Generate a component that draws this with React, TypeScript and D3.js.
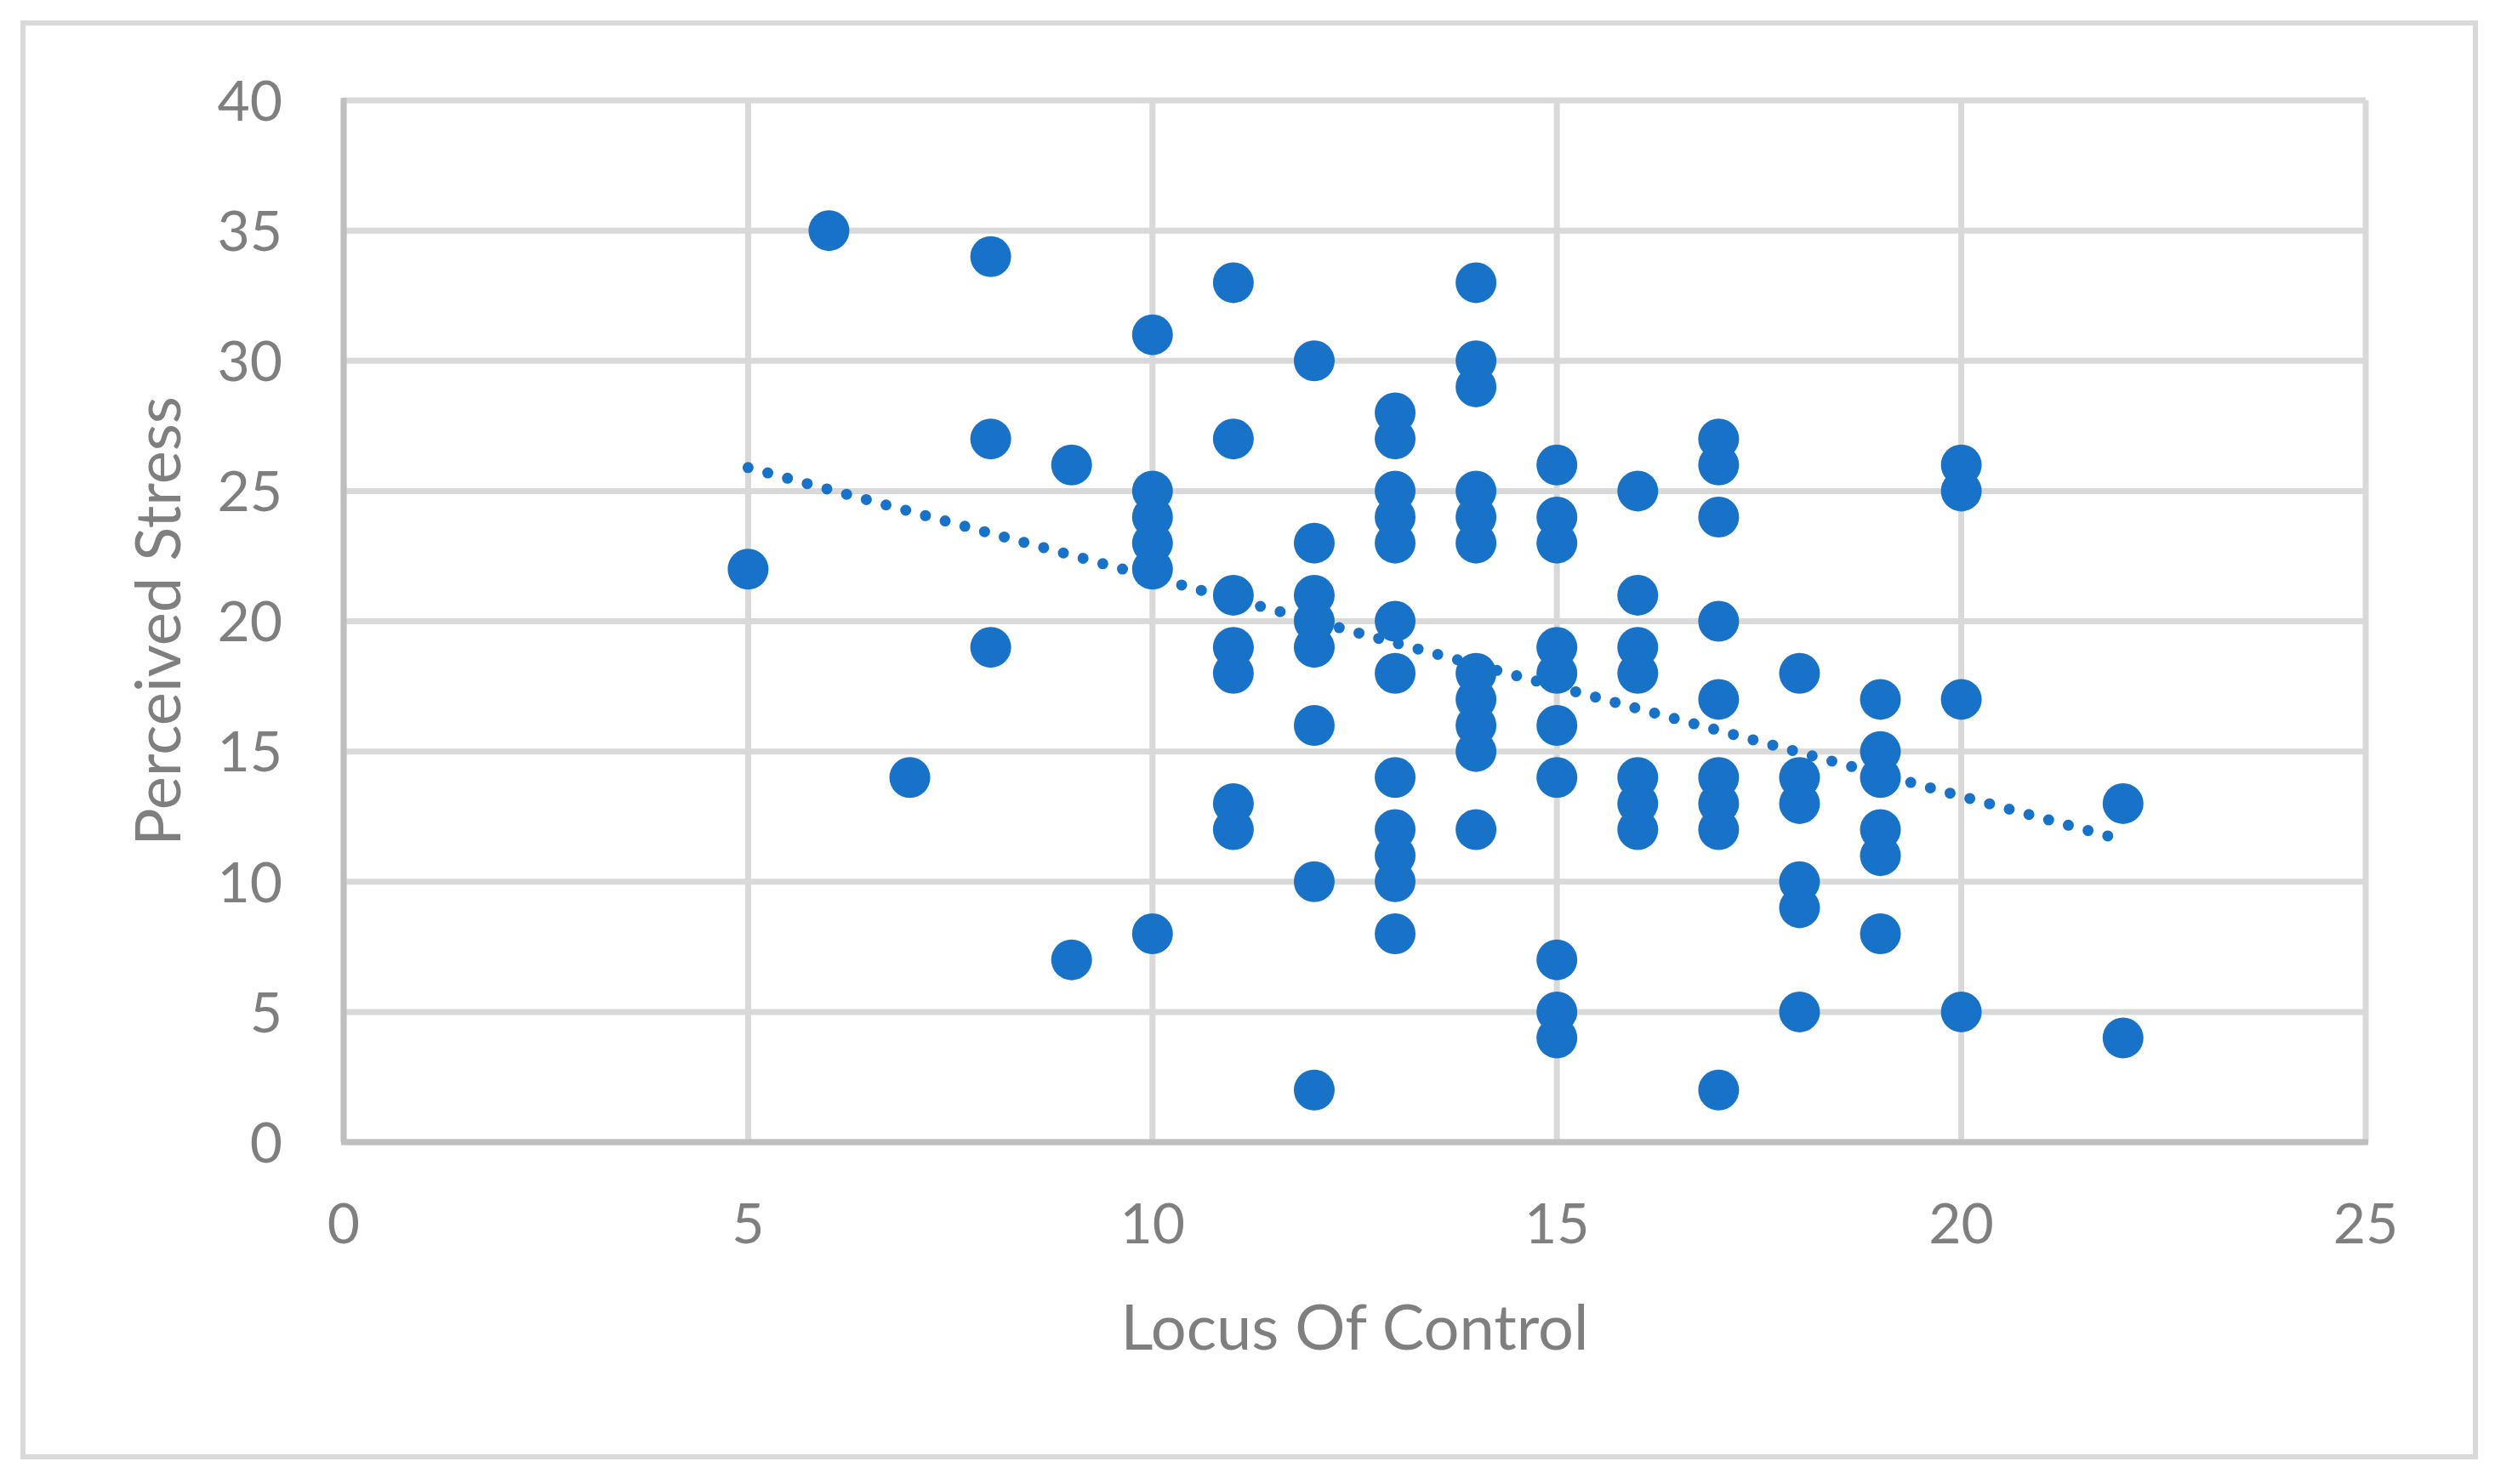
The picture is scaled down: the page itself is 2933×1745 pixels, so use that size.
import * as d3 from 'd3';

// Locus Of Control (x) and Perceived Stress (y), one line per x value
const locusOfControl = [
  5,
  6,
  7,
  8, 8, 8,
  9, 9,
  10, 10, 10, 10, 10, 10,
  11, 11, 11, 11, 11, 11, 11,
  12, 12, 12, 12, 12, 12, 12, 12,
  13, 13, 13, 13, 13, 13, 13, 13, 13, 13, 13, 13,
  14, 14, 14, 14, 14, 14, 14, 14, 14, 14, 14,
  15, 15, 15, 15, 15, 15, 15, 15, 15, 15,
  16, 16, 16, 16, 16, 16, 16,
  17, 17, 17, 17, 17, 17, 17, 17, 17,
  18, 18, 18, 18, 18, 18,
  19, 19, 19, 19, 19, 19,
  20, 20, 20, 20,
  22, 22,
];

const perceivedStress = [
  22,
  35,
  14,
  34, 27, 19,
  26, 7,
  31, 25, 24, 23, 22, 8,
  33, 27, 21, 19, 18, 13, 12,
  30, 23, 21, 20, 19, 16, 10, 2,
  28, 27, 25, 24, 23, 20, 18, 14, 12, 11, 10, 8,
  33, 30, 29, 25, 24, 23, 18, 17, 16, 15, 12,
  26, 24, 23, 19, 18, 16, 14, 7, 5, 4,
  25, 21, 19, 18, 14, 13, 12,
  27, 26, 24, 20, 17, 14, 13, 12, 2,
  18, 14, 13, 10, 9, 5,
  17, 15, 14, 12, 11, 8,
  26, 25, 17, 5,
  13, 4,
];

// linear trendline as drawn in the picture (start / end)
const trendX = [5, 22];
const trendY = [25.9, 11.6];

const xTicks = [0, 5, 10, 15, 20, 25];
const yTicks = [0, 5, 10, 15, 20, 25, 30, 35, 40];

const xTitle = 'Locus Of Control';
const yTitle = 'Perceived Stress';

export default function App() {
  const width = 2933;
  const height = 1745;
  const margin = { top: 118, right: 152, bottom: 402, left: 404 };
  const font = 'Lato, Carlito, Calibri, sans-serif';
  const textColor = '#7f7f7f';
  const blue = '#1873c8';

  const x = d3
    .scaleLinear()
    .domain([0, 25])
    .range([margin.left, width - margin.right]);
  const y = d3
    .scaleLinear()
    .domain([0, 40])
    .range([height - margin.bottom, margin.top]);

  const points = locusOfControl.map((lx, i) => ({ lx, ps: perceivedStress[i] }));
  const trend = trendX.map((tx, i) => [tx, trendY[i]] as [number, number]);
  const trendPath = d3
    .line<[number, number]>()
    .x((d) => x(d[0]))
    .y((d) => y(d[1]))(trend);

  return (
    <svg
      width={width}
      height={height}
      style={{ position: 'absolute', left: 0, top: 0, display: 'block', background: '#fff' }}
    >
      {/* chart border */}
      <rect x={27} y={27} width={2883} height={1686} fill="#fff" stroke="#d9d9d9" strokeWidth={6} />

      {/* gridlines */}
      {yTicks.map((t) => (
        <line key={'gy' + t} x1={x(0)} x2={x(25)} y1={y(t)} y2={y(t)} stroke="#d9d9d9" strokeWidth={7} />
      ))}
      {xTicks.map((t) => (
        <line key={'gx' + t} x1={x(t)} x2={x(t)} y1={y(0)} y2={y(40)} stroke="#d9d9d9" strokeWidth={7} />
      ))}

      {/* axis lines */}
      <line x1={x(0)} x2={x(0)} y1={y(40) - 3} y2={y(0)} stroke="#bfbfbf" strokeWidth={7} />
      <line x1={x(0) - 3} x2={x(25) + 3} y1={y(0)} y2={y(0)} stroke="#bfbfbf" strokeWidth={7} />

      {/* tick labels */}
      {yTicks.map((t) => (
        <text
          key={'ty' + t}
          x={332}
          y={y(t)}
          dy="0.36em"
          textAnchor="end"
          fontFamily={font}
          fontSize={66}
          fill={textColor}
        >
          {t}
        </text>
      ))}
      {xTicks.map((t) => (
        <text
          key={'tx' + t}
          x={x(t)}
          y={1462}
          textAnchor="middle"
          fontFamily={font}
          fontSize={66}
          fill={textColor}
        >
          {t}
        </text>
      ))}

      {/* points */}
      {points.map((d, i) => (
        <circle key={i} cx={x(d.lx)} cy={y(d.ps)} r={24} fill={blue} />
      ))}

      {/* trendline */}
      <path
        d={trendPath ?? ''}
        fill="none"
        stroke={blue}
        strokeWidth={13}
        strokeLinecap="round"
        strokeDasharray="0 24"
      />

      {/* axis titles */}
      <text
        x={(x(0) + x(25)) / 2}
        y={1587}
        textAnchor="middle"
        fontFamily={font}
        fontSize={74}
        fill={textColor}
      >
        {xTitle}
      </text>
      <text
        transform={`translate(212, ${(y(0) + y(40)) / 2}) rotate(-90)`}
        textAnchor="middle"
        fontFamily={font}
        fontSize={74}
        fill={textColor}
      >
        {yTitle}
      </text>
    </svg>
  );
}
